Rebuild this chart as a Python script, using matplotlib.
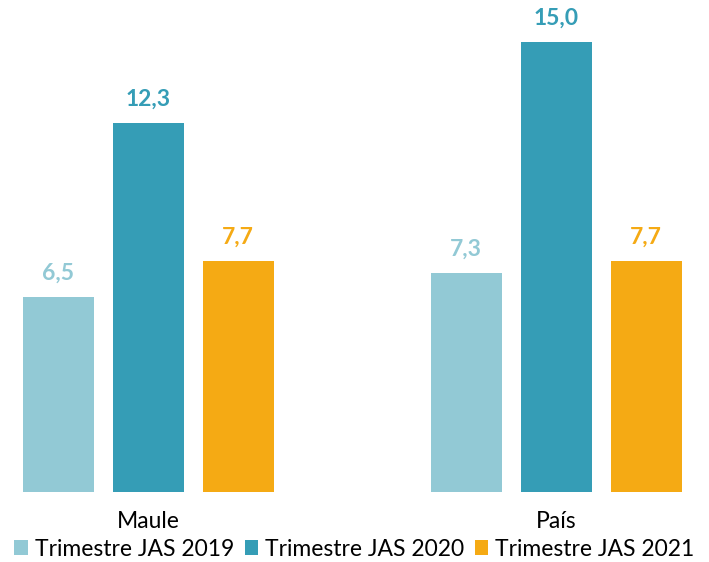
import matplotlib
matplotlib.use("Agg")
import matplotlib.pyplot as plt
from matplotlib.patches import Patch
import numpy as np

plt.rcParams['font.family'] = ['Lato', 'DejaVu Sans']

categories = ["Maule", "País"]
series = ["Trimestre JAS 2019", "Trimestre JAS 2020", "Trimestre JAS 2021"]
values = [
    [6.5, 7.3],
    [12.3, 15.0],
    [7.7, 7.7],
]
labels = [
    ["6,5", "7,3"],
    ["12,3", "15,0"],
    ["7,7", "7,7"],
]
colors = ["#92C9D5", "#359DB6", "#F5AA14"]
label_colors = ["#92C9D5", "#359DB6", "#F5AA14"]

fig = plt.figure(figsize=(7.09, 5.62), dpi=100)
ax = fig.add_axes([0, 0.1246, 1, 0.8754])

x = np.arange(len(categories))
step = 90 / 408
width = 71 / 408
for i, (vals, col) in enumerate(zip(values, colors)):
    pos = x + (i - 1) * step
    ax.bar(pos, vals, width=width, color=col, zorder=2)
    for p, v, lab in zip(pos, vals, labels[i]):
        ax.annotate(lab, (p, v), xytext=(0, 9.5), textcoords="offset points",
                    ha="center", va="bottom", fontsize=16.5, fontweight="bold",
                    color=label_colors[i])

ax.set_xlim(-148 / 408, (709 - 148) / 408)
ax.set_ylim(0, 492 / 30)
for s in ax.spines.values():
    s.set_visible(False)
ax.set_yticks([])
ax.set_xticks(x)
ax.set_xticklabels(categories, fontsize=16.5)
ax.tick_params(axis="x", length=0, pad=14)

handles = [Patch(facecolor=c, edgecolor="none") for c in colors]
fig.legend(handles, series, loc="center", bbox_to_anchor=(0.5, 1 - 549 / 562),
           ncol=3, frameon=False, fontsize=16.5, handlelength=0.6, handleheight=0.6,
           handletextpad=0.3, columnspacing=0.45, borderaxespad=0)

fig.savefig("out.png", dpi=100)
